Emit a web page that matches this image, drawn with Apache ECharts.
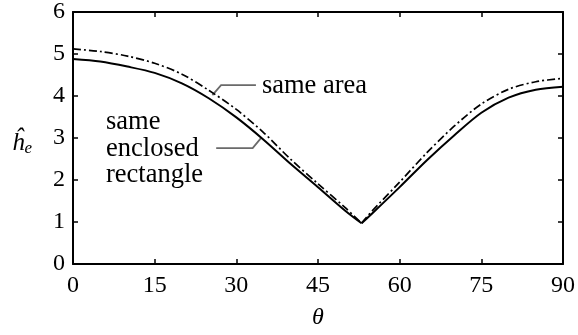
<!DOCTYPE html>
<html>
<head>
  <meta charset="utf-8">
  <title>h_e vs theta</title>
  <script src="https://cdn.jsdelivr.net/npm/echarts@6/dist/echarts.min.js"></script>
  <style>
    html, body { margin: 0; padding: 0; background: #fff; }
    #main { width: 578px; height: 335px; }
  </style>
</head>
<body>
<div id="main"></div>
<script>
  // theta (deg) and the two curves
  var theta = [0, 5, 10, 15, 20, 25, 30, 35, 40, 45, 50, 53, 55, 60, 65, 70, 75, 80, 85, 90];
  var sameRect = [4.88, 4.82, 4.70, 4.55, 4.30, 3.94, 3.49, 2.96, 2.38, 1.83, 1.27, 0.97, 1.21, 1.83, 2.47, 3.06, 3.60, 3.96, 4.15, 4.22];
  var sameArea = [5.12, 5.06, 4.95, 4.78, 4.52, 4.13, 3.68, 3.13, 2.49, 1.91, 1.34, 0.97, 1.27, 1.95, 2.65, 3.28, 3.81, 4.16, 4.34, 4.42];
  var xTicks = [0, 15, 30, 45, 60, 75, 90];
  var minIdx = 11; // the cusp at ~53 deg

  // callout lines, in data units [theta, h]
  var areaLeader = [[33.6, 4.26], [27.2, 4.26], [25.6, 4.02]];
  var rectLeader = [[26.3, 2.76], [33.0, 2.76], [34.6, 3.01]];

  function pairs(xs, ys) {
    return xs.map(function (x, i) { return [x, ys[i]]; });
  }

  var serif = 'Liberation Serif';
  var chart = echarts.init(document.getElementById('main'));

  var boxAxis = {
    axisLine: { show: true, onZero: false, lineStyle: { color: '#000', width: 2 } },
    axisTick: { show: true, inside: true, length: 5, lineStyle: { color: '#000', width: 1.5 } },
    splitLine: { show: false }
  };

  // each curve is drawn as two branches so the cusp stays sharp
  function branches(name, ys, lineStyle) {
    var pts = pairs(theta, ys);
    return [pts.slice(0, minIdx + 1), pts.slice(minIdx)].map(function (d) {
      return { name: name, type: 'line', data: d, showSymbol: false, smooth: 0.3, lineStyle: lineStyle };
    });
  }

  chart.setOption({
    animation: false,
    grid: { left: 73, right: 13, top: 7, bottom: 71 },
    xAxis: [
      Object.assign({}, boxAxis, {
        type: 'value', min: 0, max: 90, interval: 15,
        name: 'θ', nameLocation: 'middle', nameGap: 42,
        nameTextStyle: { fontFamily: serif, fontStyle: 'italic', fontSize: 24, color: '#000' },
        axisLabel: { fontFamily: serif, fontSize: 24, color: '#000', margin: 10,
          formatter: function (v) { return xTicks.indexOf(v) >= 0 ? v : ''; } }
      }),
      Object.assign({}, boxAxis, {
        type: 'value', position: 'top', min: 0, max: 90, interval: 15,
        axisLabel: { show: false }
      })
    ],
    yAxis: [
      Object.assign({}, boxAxis, {
        type: 'value', min: 0, max: 6, interval: 1,
        axisLabel: { fontFamily: serif, fontSize: 24, color: '#000', margin: 8, padding: [10, 0, 0, 0] }
      }),
      Object.assign({}, boxAxis, {
        type: 'value', position: 'right', min: 0, max: 6, interval: 1,
        axisLabel: { show: false }
      })
    ],
    series: branches('same area', sameArea, { color: '#000', width: 1.7, type: [8, 3, 2, 3] })
      .concat(branches('same enclosed rectangle', sameRect, { color: '#000', width: 2 }))
  });

  function toPx(pts) {
    return pts.map(function (p) { return chart.convertToPixel({ xAxisIndex: 0, yAxisIndex: 0 }, p); });
  }
  var aPts = toPx(areaLeader);
  var rPts = toPx(rectLeader);
  var leaderStyle = { stroke: '#6a6a6a', lineWidth: 1.8, fill: null };

  chart.setOption({
    graphic: [
      { type: 'polyline', shape: { points: aPts }, style: leaderStyle, silent: true },
      { type: 'polyline', shape: { points: rPts }, style: leaderStyle, silent: true },
      {
        type: 'text', x: aPts[0][0] + 6, y: aPts[0][1] + 1,
        style: { text: 'same area', fontFamily: serif, fontSize: 26.5, fill: '#000', verticalAlign: 'middle' }
      },
      {
        type: 'text', x: 106, y: 109,
        style: { text: 'same\nenclosed\nrectangle', fontFamily: serif, fontSize: 26.5, fill: '#000', lineHeight: 26.5 }
      },
      {
        type: 'text', x: 12, y: 130,
        style: {
          text: '{h|ĥ}{e|e}',
          rich: {
            h: { fontFamily: serif, fontStyle: 'italic', fontSize: 25, fill: '#000' },
            e: { fontFamily: serif, fontStyle: 'italic', fontSize: 17, fill: '#000', padding: [10, 0, 0, 0] }
          }
        }
      }
    ]
  });
</script>
</body>
</html>
